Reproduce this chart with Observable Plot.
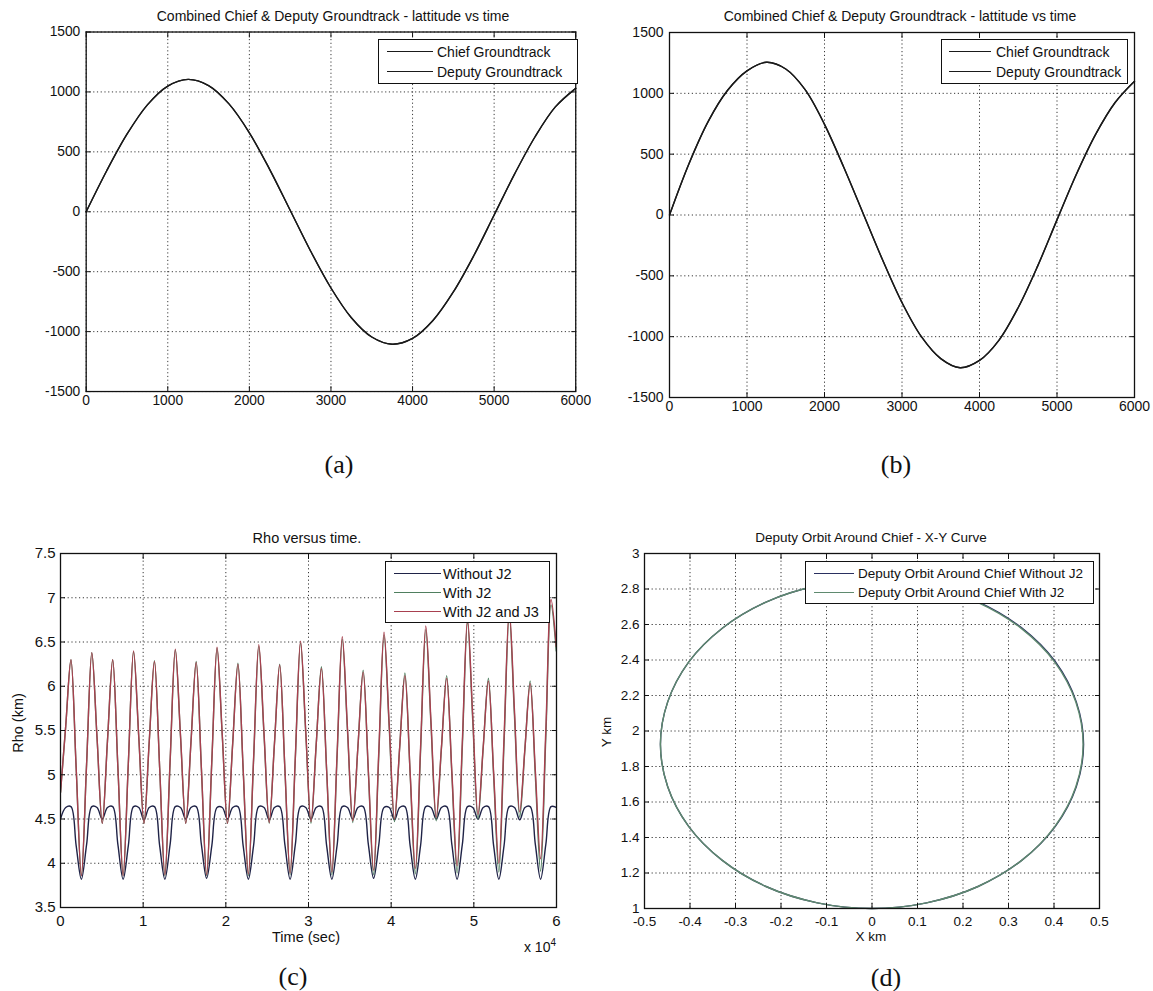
<!DOCTYPE html>
<html>
<head>
<meta charset="utf-8">
<script src="https://cdn.jsdelivr.net/npm/d3@7"></script>
<script src="https://cdn.jsdelivr.net/npm/@observablehq/plot@0.6"></script>
<style>
  body { margin: 0; background: #fff; }
  #root { position: relative; width: 1153px; height: 991px; overflow: hidden; background: #fff;
          font-family: "Liberation Sans", Arial, Helvetica, sans-serif; color: #111; }
  .panel { position: absolute; overflow: hidden; }
  .lbl { position: absolute; white-space: nowrap; line-height: 1; transform: translate(-50%, -50%); }
  .rot { transform: translate(-50%, -50%) rotate(-90deg); }
  .cap { font-family: "Liberation Serif", "Times New Roman", serif; font-size: 26px; }
  .legbox { position: absolute; border: 1.8px solid #111; background: #fff; box-sizing: border-box; }
  .legline { position: absolute; height: 0; }
  .legtxt { position: absolute; white-space: nowrap; line-height: 1; transform: translateY(-50%); }
</style>
</head>
<body>
<div id="root"></div>
<script>
// ---------------- DATA ----------------
// Panels (a) and (b): latitude vs time
const timeAB = [0,250,500,750,1000,1250,1500,1750,2000,2250,2500,2750,3000,3250,3500,3750,4000,4250,4500,4750,5000,5250,5500,5750,6000];
const chiefLatA  = [0,340,647,892,1049,1105,1053,900,659,352,13,-327,-636,-884,-1045,-1105,-1057,-907,-669,-367,-27,314,624,875,1030];
const deputyLatA = [0,340,647,892,1049,1105,1053,900,659,352,13,-327,-636,-884,-1045,-1105,-1057,-907,-669,-367,-27,314,624,875,1030];
const chiefLatB  = [0,420,770,1025,1185,1255,1200,1030,745,390,10,-370,-720,-1000,-1180,-1255,-1195,-1030,-760,-420,-40,335,665,925,1100];
const deputyLatB = [0,420,770,1025,1185,1255,1200,1030,745,390,10,-370,-720,-1000,-1180,-1255,-1195,-1030,-760,-420,-40,335,665,925,1100];
const latXTicks = [0,1000,2000,3000,4000,5000,6000];
const latYTicks = [-1500,-1000,-500,0,500,1000,1500];

// Panel (c): Rho versus time
const timeC = [0,631,1263,1894,2525,3156,3788,4419,5050,5681,6313,6944,7575,8206,8838,9469,
  10100,10731,11363,11994,12625,13256,13888,14519,15150,15781,16413,17044,17675,18306,18938,19569,
  20200,20831,21463,22094,22725,23356,23988,24619,25250,25881,26513,27144,27775,28406,29038,29669,
  30300,30931,31563,32194,32825,33456,34088,34719,35350,35981,36613,37244,37875,38506,39138,39769,
  40400,41031,41663,42294,42925,43556,44188,44819,45450,46081,46713,47344,47975,48606,49238,49869,
  50500,51131,51763,52394,53025,53656,54288,54919,55550,56181,56813,57444,58075,58706,59338,59969];
const rhoNoJ2 = [
  4.50,4.63,4.64,4.20,3.82,4.21,4.64,4.63, 4.50,4.63,4.64,4.21,3.82,4.20,4.64,4.63,
  4.49,4.63,4.64,4.20,3.82,4.21,4.64,4.63, 4.50,4.63,4.64,4.21,3.83,4.20,4.63,4.63,
  4.50,4.63,4.64,4.20,3.82,4.20,4.64,4.63, 4.49,4.63,4.64,4.21,3.82,4.21,4.64,4.63,
  4.50,4.63,4.64,4.20,3.82,4.20,4.64,4.63, 4.50,4.63,4.64,4.21,3.83,4.21,4.63,4.63,
  4.49,4.63,4.64,4.20,3.82,4.20,4.64,4.63, 4.50,4.63,4.64,4.21,3.82,4.21,4.64,4.63,
  4.50,4.63,4.64,4.20,3.82,4.20,4.64,4.63, 4.49,4.63,4.64,4.21,3.82,4.21,4.64,4.63];
const rhoJ2 = [
  4.80,5.55,6.30,5.08,3.86,5.12,6.38,5.42, 4.45,5.38,6.30,5.08,3.86,5.13,6.39,5.42,
  4.45,5.37,6.29,5.08,3.86,5.14,6.41,5.43, 4.45,5.37,6.28,5.07,3.86,5.15,6.43,5.44,
  4.45,5.36,6.26,5.06,3.86,5.16,6.45,5.45, 4.45,5.35,6.25,5.06,3.87,5.18,6.49,5.47,
  4.45,5.34,6.22,5.05,3.87,5.20,6.53,5.49, 4.46,5.32,6.18,5.02,3.87,5.23,6.58,5.52,
  4.47,5.31,6.15,5.01,3.88,5.26,6.64,5.56, 4.48,5.30,6.12,5.00,3.89,5.31,6.72,5.61,
  4.50,5.30,6.09,4.99,3.90,5.36,6.81,5.66, 4.52,5.29,6.06,4.98,3.91,5.42,6.92,6.40];
const rhoJ2J3 = [
  4.80,5.55,6.30,5.08,3.86,5.12,6.38,5.42, 4.45,5.38,6.30,5.08,3.86,5.13,6.40,5.43,
  4.45,5.37,6.28,5.08,3.87,5.15,6.42,5.44, 4.45,5.36,6.27,5.07,3.87,5.16,6.44,5.45,
  4.45,5.35,6.25,5.07,3.88,5.18,6.47,5.47, 4.46,5.35,6.24,5.07,3.89,5.20,6.51,5.49,
  4.47,5.34,6.20,5.05,3.90,5.23,6.56,5.52, 4.48,5.32,6.16,5.04,3.92,5.27,6.61,5.56,
  4.50,5.31,6.12,5.03,3.94,5.31,6.68,5.60, 4.52,5.31,6.09,5.03,3.97,5.37,6.76,5.66,
  4.55,5.31,6.06,5.03,4.00,5.43,6.86,5.72, 4.58,5.30,6.03,5.04,4.05,5.50,6.98,6.45];
const rhoXTicks = [0,10000,20000,30000,40000,50000,60000];
const rhoYTicks = [3.5,4,4.5,5,5.5,6,6.5,7,7.5];

// Panel (d): deputy orbit around chief, X-Y
const orbitXNoJ2 = [0.465,0.449,0.403,0.329,0.233,0.120,0,-0.120,-0.233,-0.329,-0.403,-0.449,-0.465,-0.449,-0.403,-0.329,-0.233,-0.120,0,0.120,0.233,0.329,0.403,0.449];
const orbitYNoJ2 = [1.925,2.164,2.390,2.581,2.728,2.820,2.850,2.818,2.726,2.579,2.388,2.164,1.925,1.686,1.463,1.271,1.124,1.032,1.000,1.032,1.124,1.271,1.463,1.686];
const orbitXJ2   = [0.464,0.448,0.402,0.328,0.232,0.120,0,-0.120,-0.233,-0.329,-0.403,-0.449,-0.465,-0.449,-0.403,-0.329,-0.233,-0.120,0,0.120,0.233,0.329,0.402,0.448];
const orbitYJ2   = [1.925,2.163,2.387,2.578,2.725,2.817,2.848,2.818,2.726,2.579,2.388,2.164,1.925,1.686,1.463,1.271,1.124,1.032,1.000,1.032,1.124,1.271,1.463,1.686];
const orbXTicks = [-0.5,-0.4,-0.3,-0.2,-0.1,0,0.1,0.2,0.3,0.4,0.5];
const orbYTicks = [1,1.2,1.4,1.6,1.8,2,2.2,2.4,2.6,2.8,3];

// Text
const titleTop = "Combined Chief & Deputy Groundtrack - lattitude vs time";
const legendAB = ["Chief Groundtrack", "Deputy Groundtrack"];
const legendC = ["Without J2", "With J2", "With J2 and J3"];
const legendD = ["Deputy Orbit Around Chief Without J2", "Deputy Orbit Around Chief With J2"];

// ---------------- STYLE ----------------
const C_NAVY = "#1f2347", C_GREEN = "#4f7f5f", C_RED = "#a8404f", C_BLACK = "#1a1a1a";
const C_ORB_NAVY = "#2a3060", C_ORB_GREEN = "#5f8a6f";
const FONT = "Liberation Sans, Arial, Helvetica, sans-serif";
const root = document.getElementById("root");

function fmt(d) { return String(d); }

function frameMarks(xt, yt, xfmt, yfmt, padX, padY) {
  const g = {stroke: "#222", strokeOpacity: 0.9, strokeWidth: 1, strokeDasharray: "1.2,2.6"};
  return {
    grid: [Plot.gridX(xt, g), Plot.gridY(yt, g)],
    axes: [
      Plot.frame({stroke: "#111", strokeWidth: 1.3}),
      Plot.axisX(xt, {anchor: "bottom", tickSize: -5, tickPadding: padX, tickFormat: xfmt, label: null}),
      Plot.axisX(xt, {anchor: "top", tickSize: -5, tickFormat: () => "", label: null}),
      Plot.axisY(yt, {anchor: "left", tickSize: -5, tickPadding: padY, tickFormat: yfmt, label: null}),
      Plot.axisY(yt, {anchor: "right", tickSize: -5, tickFormat: () => "", label: null})
    ]
  };
}

function addPanel(left, top, clipW, chart) {
  const d = document.createElement("div");
  d.className = "panel";
  d.style.left = left + "px"; d.style.top = top + "px";
  d.style.width = clipW + "px";
  d.appendChild(chart);
  root.appendChild(d);
}

function addLabel(text, cx, cy, size, cls) {
  const d = document.createElement("div");
  d.className = "lbl" + (cls ? " " + cls : "");
  d.style.left = cx + "px"; d.style.top = cy + "px";
  if (size) d.style.fontSize = size + "px";
  d.innerHTML = text;
  root.appendChild(d);
}

function addLegend(box, rows, lineX0, lineX1, textX, size) {
  const b = document.createElement("div");
  b.className = "legbox";
  b.style.left = box[0] + "px"; b.style.top = box[1] + "px";
  b.style.width = (box[2] - box[0]) + "px"; b.style.height = (box[3] - box[1]) + "px";
  root.appendChild(b);
  rows.forEach(r => {
    const l = document.createElement("div");
    l.className = "legline";
    l.style.left = lineX0 + "px"; l.style.width = (lineX1 - lineX0) + "px";
    l.style.top = (r.y - 0.75) + "px";
    l.style.borderTop = "1.5px solid " + r.color;
    root.appendChild(l);
    const t = document.createElement("div");
    t.className = "legtxt";
    t.style.left = textX + "px"; t.style.top = r.y + "px";
    t.style.fontSize = size + "px";
    t.textContent = r.text;
    root.appendChild(t);
  });
}

// ---------------- PANEL (a) ----------------
{
  const f = frameMarks(latXTicks, latYTicks, fmt, fmt, 9, 11);
  const chart = Plot.plot({
    width: 600, height: 430,
    marginLeft: 87, marginRight: 16, marginTop: 32, marginBottom: 33,
    style: {background: "transparent", fontFamily: FONT, fontSize: "14px", color: "#111"},
    x: {domain: [0, 6000]},
    y: {domain: [-1500, 1500]},
    marks: [
      ...f.grid,
      Plot.lineY(chiefLatA, {x: timeAB, stroke: C_BLACK, strokeWidth: 1.4, curve: "catmull-rom"}),
      Plot.lineY(deputyLatA, {x: timeAB, stroke: C_BLACK, strokeWidth: 1.4, curve: "catmull-rom"}),
      ...f.axes
    ]
  });
  addPanel(0, 0, 591, chart);
}

// ---------------- PANEL (b) ----------------
{
  const f = frameMarks(latXTicks, latYTicks, fmt, fmt, 9, 11);
  const chart = Plot.plot({
    width: 573, height: 430,
    marginLeft: 89, marginRight: 19, marginTop: 32, marginBottom: 33,
    style: {background: "transparent", fontFamily: FONT, fontSize: "14px", color: "#111"},
    x: {domain: [0, 6000]},
    y: {domain: [-1500, 1500]},
    marks: [
      ...f.grid,
      Plot.lineY(chiefLatB, {x: timeAB, stroke: C_BLACK, strokeWidth: 1.4, curve: "catmull-rom"}),
      Plot.lineY(deputyLatB, {x: timeAB, stroke: C_BLACK, strokeWidth: 1.4, curve: "catmull-rom"}),
      ...f.axes
    ]
  });
  addPanel(580, 0, 573, chart);
}

// ---------------- PANEL (c) ----------------
{
  const f = frameMarks(rhoXTicks, rhoYTicks, d => String(d / 10000), fmt, 13, 10);
  const chart = Plot.plot({
    width: 580, height: 460,
    marginLeft: 60, marginRight: 24, marginTop: 63, marginBottom: 43,
    style: {background: "transparent", fontFamily: FONT, fontSize: "15px", color: "#111"},
    x: {domain: [0, 60000]},
    y: {domain: [3.5, 7.5]},
    marks: [
      ...f.grid,
      Plot.lineY(rhoNoJ2, {x: timeC, stroke: C_NAVY, strokeWidth: 1.4, curve: "catmull-rom", clip: true}),
      Plot.lineY(rhoJ2, {x: timeC, stroke: C_GREEN, strokeWidth: 1.4, curve: "catmull-rom", clip: true}),
      Plot.lineY(rhoJ2J3, {x: timeC, stroke: C_RED, strokeWidth: 1.4, curve: "catmull-rom", clip: true}),
      ...f.axes
    ]
  });
  addPanel(0, 490, 580, chart);
}

// ---------------- PANEL (d) ----------------
{
  const f = frameMarks(orbXTicks, orbYTicks, fmt, fmt, 13, 10);
  const chart = Plot.plot({
    width: 573, height: 461,
    marginLeft: 64, marginRight: 54, marginTop: 63, marginBottom: 43,
    style: {background: "transparent", fontFamily: FONT, fontSize: "13.5px", color: "#111"},
    x: {domain: [-0.5, 0.5]},
    y: {domain: [1, 3]},
    marks: [
      ...f.grid,
      Plot.line(orbitXNoJ2, {x: orbitXNoJ2, y: orbitYNoJ2, stroke: C_ORB_NAVY, strokeWidth: 1.4, curve: "catmull-rom-closed"}),
      Plot.line(orbitXJ2, {x: orbitXJ2, y: orbitYJ2, stroke: C_ORB_GREEN, strokeWidth: 1.4, curve: "catmull-rom-closed"}),
      ...f.axes
    ]
  });
  addPanel(580, 490, 573, chart);
}

// ---------------- TEXT / LEGENDS ----------------
addLabel(titleTop, 333, 16, 14);
addLabel(titleTop, 900, 16, 14);
addLabel("Rho versus time.", 307, 538, 14.5);
addLabel("Deputy Orbit Around Chief - X-Y Curve", 871, 538, 13.5);

addLabel("Rho (km)", 18, 723, 14.5, "rot");
addLabel("Time (sec)", 306, 937, 14.5);
addLabel("x 10<sup style=\"font-size:10px;vertical-align:6px\">4</sup>", 540, 946, 14);
addLabel("Y km", 607, 732, 13.5, "rot");
addLabel("X km", 871, 937, 13.5);

addLabel("(a)", 339, 465, null, "cap");
addLabel("(b)", 896, 465, null, "cap");
addLabel("(c)", 293, 977, null, "cap");
addLabel("(d)", 886, 978, null, "cap");

addLegend([378, 39, 578, 84], [
  {y: 52, color: C_BLACK, text: legendAB[0]},
  {y: 72, color: C_BLACK, text: legendAB[1]}
], 387, 433, 437, 14);
addLegend([941, 39, 1128, 84], [
  {y: 52, color: C_BLACK, text: legendAB[0]},
  {y: 72, color: C_BLACK, text: legendAB[1]}
], 949, 991, 996, 14);
addLegend([385, 561, 550, 623], [
  {y: 574, color: C_NAVY, text: legendC[0]},
  {y: 593, color: C_GREEN, text: legendC[1]},
  {y: 612, color: C_RED, text: legendC[2]}
], 394, 441, 443, 14.5);
addLegend([805, 561, 1094, 604], [
  {y: 574, color: C_ORB_NAVY, text: legendD[0]},
  {y: 593, color: C_ORB_GREEN, text: legendD[1]}
], 814, 854, 858, 13.5);
</script>
</body>
</html>
